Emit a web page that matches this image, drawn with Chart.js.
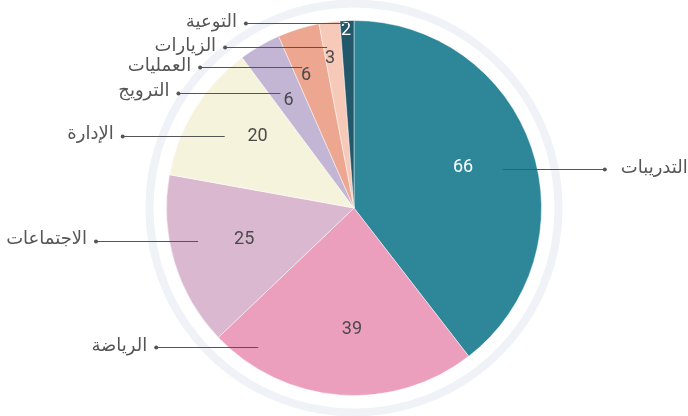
<!DOCTYPE html>
<html lang="ar">
<head>
<meta charset="utf-8">
<script src="https://cdn.jsdelivr.net/npm/chart.js@4/dist/chart.umd.min.js"></script>
<style>
  html, body { margin: 0; padding: 0; background: #ffffff; }
  #wrap { width: 688px; height: 416px; }
</style>
</head>
<body>
<div id="wrap"><canvas id="activityPie" width="688" height="416"></canvas></div>
<script>
const categories = ['التدريبات', 'الرياضة', 'الاجتماعات', 'الإدارة', 'الترويج', 'العمليات', 'الزيارات', 'التوعية'];
const counts = [66, 39, 25, 20, 6, 6, 3, 2];
const sliceColors = ['#2e8799', '#eb9fbc', '#dab9d0', '#f6f3dd', '#c3b6d4', '#eda68f', '#f6c9b8', '#23586a'];
const valueColors = ['#ffffff', '#4a4a4a', '#4a4a4a', '#4a4a4a', '#4a4a4a', '#4a4a4a', '#4a4a4a', '#ffffff'];

// where the number sits inside each slice: [fraction of the sweep, fraction of the radius]
const valueSpot = [[0.49, 0.62], [0.46, 0.65], [0.51, 0.61], [0.61, 0.64], [0.41, 0.67], [0.29, 0.75], [0.26, 0.81], [0.40, 0.95]];
// where each leader line starts inside its slice
const leaderSpot = [[0.53, 0.82], [0.86, 0.90], [0.59, 0.85], [0.44, 0.79], [0.32, 0.73], [0.27, 0.80], [0.20, 0.87], [0.56, 0.985]];
const leaderLength = 102;

const labelFont = '18px "DejaVu Sans", sans-serif';
const numberFont = '18px Roboto, sans-serif';

function spotOf(arc, spot) {
    const a = arc.startAngle + (arc.endAngle - arc.startAngle) * spot[0];
    const r = arc.outerRadius * spot[1];
    return { x: arc.x + Math.cos(a) * r, y: arc.y + Math.sin(a) * r };
}

// faint ring drawn round the pie
const outerRing = {
    id: 'outerRing',
    beforeDatasetsDraw(chart) {
        const arc = chart.getDatasetMeta(0).data[0];
        if (!arc) return;
        const {ctx} = chart;
        ctx.save();
        ctx.strokeStyle = '#eff2f6';
        ctx.lineWidth = 8;
        ctx.beginPath();
        ctx.arc(arc.x, arc.y, arc.outerRadius + 17, 0, Math.PI * 2);
        ctx.stroke();
        ctx.restore();
    }
};

// numbers in the slices, leader lines and category names
const sliceLabels = {
    id: 'sliceLabels',
    afterDatasetsDraw(chart) {
        const {ctx} = chart;
        const arcs = chart.getDatasetMeta(0).data;
        ctx.save();
        arcs.forEach((arc, i) => {
            const p = spotOf(arc, valueSpot[i]);
            ctx.font = numberFont;
            ctx.fillStyle = valueColors[i];
            ctx.textAlign = 'center';
            ctx.textBaseline = 'middle';
            ctx.fillText(String(counts[i]), p.x, p.y);

            const s = spotOf(arc, leaderSpot[i]);
            const dir = s.x >= arc.x ? 1 : -1;
            const ex = s.x + dir * leaderLength;
            const ly = Math.round(s.y) + 0.5;
            ctx.strokeStyle = '#555555';
            ctx.lineWidth = 1;
            ctx.beginPath();
            ctx.moveTo(s.x, ly);
            ctx.lineTo(ex, ly);
            ctx.stroke();
            ctx.fillStyle = '#555555';
            ctx.beginPath();
            ctx.arc(ex, ly, 2, 0, Math.PI * 2);
            ctx.fill();

            ctx.font = labelFont;
            ctx.fillStyle = '#555555';
            ctx.direction = 'rtl';
            ctx.textAlign = dir > 0 ? 'left' : 'right';
            ctx.fillText(categories[i], ex + dir * (dir > 0 ? 16 : 9), s.y - 1);
        });
        ctx.restore();
    }
};

new Chart(document.getElementById('activityPie').getContext('2d'), {
    type: 'pie',
    data: {
        labels: categories,
        datasets: [{
            data: counts,
            backgroundColor: sliceColors,
            borderColor: 'rgba(255,255,255,0.45)',
            borderWidth: 1
        }]
    },
    options: {
        responsive: false,
        animation: false,
        layout: { padding: { top: 20, bottom: 20, left: 20, right: 0 } },
        plugins: {
            legend: { display: false },
            tooltip: { enabled: false }
        }
    },
    plugins: [outerRing, sliceLabels]
});
</script>
</body>
</html>
